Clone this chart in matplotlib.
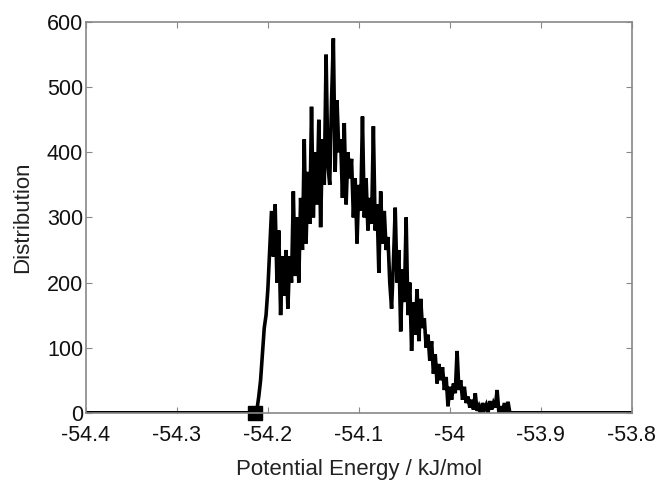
import numpy as np
import matplotlib
matplotlib.use("Agg")
import matplotlib.pyplot as plt

# Energy grid (bin centres) of the populated region
energy_start = -54.214
energy_step = 0.002
# Distribution counts, one per bin
counts = [
    0, 5, 25, 50, 90, 130, 150, 190, 250, 310,
    240, 320, 200, 280, 150, 240, 180, 250, 160, 240,
    200, 340, 210, 300, 200, 330, 250, 420, 260, 370,
    290, 470, 300, 400, 320, 450, 285, 420, 350, 550,
    380, 350, 480, 575, 370, 480, 400, 420, 330, 445,
    320, 400, 360, 390, 300, 360, 260, 350, 310, 455,
    300, 360, 280, 330, 290, 440, 280, 320, 215, 340,
    260, 310, 250, 270, 200, 160, 230, 315, 200, 250,
    125, 220, 170, 300, 150, 200, 95, 170, 120, 190,
    110, 175, 130, 145, 100, 120, 80, 110, 60, 90,
    45, 75, 50, 70, 35, 55, 10, 40, 20, 45,
    30, 95, 35, 50, 20, 40, 15, 25, 8, 20,
    5, 30, 3, 10, 0, 15, 5, 12, 0, 18,
    5, 15, 8, 35, 0, 10, 0, 15, 0, 17,
    0, 0,
]
x_min, x_max = -54.4, -53.8
xticks = [-54.4, -54.3, -54.2, -54.1, -54.0, -53.9, -53.8]
xtick_labels = ["-54.4", "-54.3", "-54.2", "-54.1", "-54", "-53.9", "-53.8"]
yticks = [0, 100, 200, 300, 400, 500, 600]

energy = energy_start + energy_step * np.arange(len(counts))
x = np.concatenate([[x_min], energy, [x_max]])
y = np.concatenate([[0], counts, [0]])

plt.rcParams['font.family'] = ['Liberation Sans', 'DejaVu Sans']
fig = plt.figure(figsize=(6.56, 4.8), dpi=100)
ax = fig.add_axes([0.131, 0.140, 0.832, 0.814])
ax.plot(x, y, color='black', lw=2.6, solid_joinstyle='miter')
ax.plot([energy_start], [0], marker='s', color='black', markersize=10, clip_on=False)

ax.set_xlim(x_min, x_max)
ax.set_ylim(0, 600)
ax.set_xticks(xticks)
ax.set_xticklabels(xtick_labels)
ax.set_yticks(yticks)
ax.tick_params(direction='in', top=True, right=True, length=4, width=0.8,
               color='#888888', labelsize=15.5, labelcolor='#111111')
ax.tick_params(axis='x', pad=9)
ax.tick_params(axis='y', pad=2)
for s in ax.spines.values():
    s.set_color('#888888')
    s.set_linewidth(1.2)
ax.set_xlabel("Potential Energy / kJ/mol", fontsize=16, labelpad=9, color='#222222')
ax.set_ylabel("Distribution", fontsize=16, labelpad=10, color='#222222')
fig.savefig("out.png", dpi=100)
